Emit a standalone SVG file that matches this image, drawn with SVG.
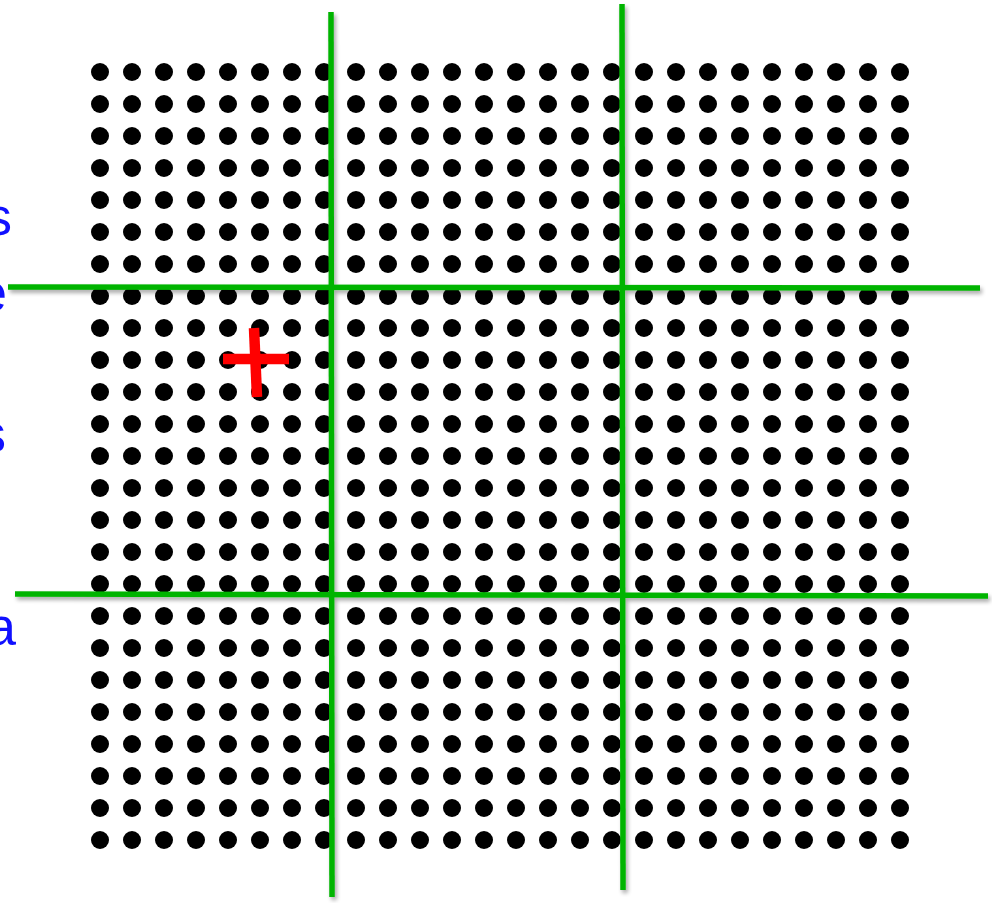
<svg xmlns="http://www.w3.org/2000/svg" width="992" height="903" viewBox="0 0 992 903">
<style>
.lbl{font-family:"Liberation Sans",Arial,sans-serif;font-size:53px;fill:#1010ff;text-anchor:end}
.grid{stroke:#00b400;stroke-width:5.5;stroke-linecap:butt;fill:none}
</style>
<defs>
<pattern id="dots" x="84" y="56" width="32" height="32" patternUnits="userSpaceOnUse">
<circle cx="16" cy="16" r="9" fill="#000"/>
</pattern>
<filter id="sh" x="-5%" y="-5%" width="110%" height="110%">
<feGaussianBlur in="SourceAlpha" stdDeviation="2"/>
<feOffset dx="2" dy="3" result="b"/>
<feComponentTransfer><feFuncA type="linear" slope="0.35"/></feComponentTransfer>
<feMerge><feMergeNode/><feMergeNode in="SourceGraphic"/></feMerge>
</filter>
</defs>
<rect width="992" height="903" fill="#fff"/>
<g id="labels" font-family="Liberation Sans, Arial, sans-serif">
<text class="lbl" x="12" y="235">s</text>
<text class="lbl" x="7" y="311">e</text>
<text class="lbl" x="6" y="452">s</text>
<text class="lbl" x="16" y="645">a</text>
</g>
<g id="dotgrid">
<rect x="84" y="56" width="832" height="800" fill="url(#dots)"/>
</g>
<g id="connectors" filter="url(#sh)">
<line class="grid" x1="331" y1="12" x2="332" y2="897"/>
<line class="grid" x1="622" y1="4" x2="623" y2="890"/>
<line class="grid" x1="8" y1="287" x2="980" y2="288"/>
<line class="grid" x1="15" y1="594" x2="988" y2="596"/>
</g>
<g id="marker" stroke="#ff0000" stroke-width="10.5" fill="none">
<line x1="254" y1="328" x2="257" y2="397"/>
<line x1="223" y1="359" x2="289" y2="359"/>
</g>
</svg>
